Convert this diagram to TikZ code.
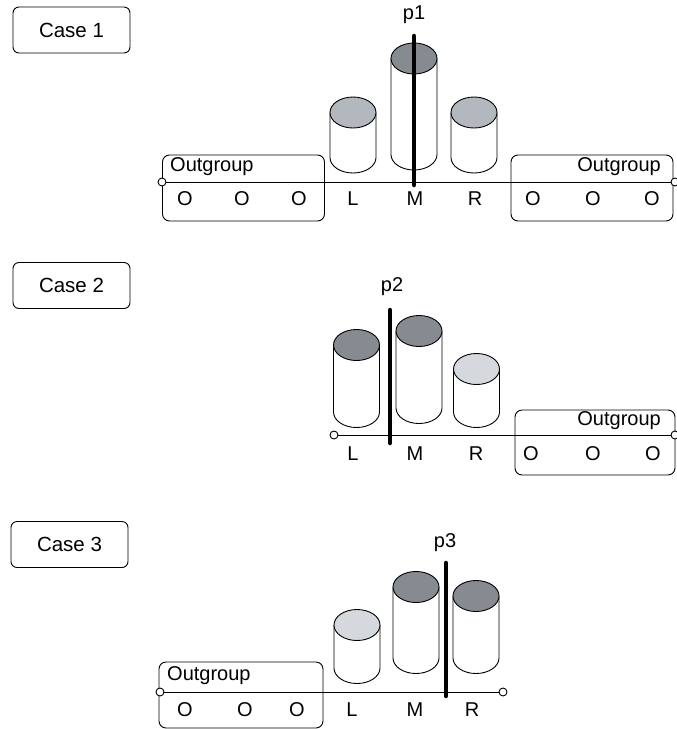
\documentclass[tikz,border=0pt]{standalone}
\usepackage{fontspec}
\setmainfont{Liberation Sans}
\definecolor{capdark}{HTML}{868B91}
\definecolor{capmid}{HTML}{B3B8BF}
\definecolor{caplight}{HTML}{D5D8DD}
% upright cylinder: centre x, top-ellipse y, bottom-ellipse y, cap colour
\newcommand\drawcyl[4]{%
  \filldraw[thinline, fill=white] (#1-23,#2) -- (#1-23,#3)
    arc[start angle=180, end angle=0, x radius=23, y radius=15.5] -- (#1+23,#2);
  \filldraw[thinline, fill=#4] (#1,#2) ellipse[x radius=23, y radius=15.5];
}
\begin{document}
\begin{tikzpicture}[x=1pt, y=-1pt,
  thinline/.style={line width=0.9pt},
  casebox/.style={draw, thinline, rounded corners=6pt, minimum width=117pt,
    minimum height=46pt, font=\fontsize{20.5}{24}\selectfont},
  groupbox/.style={draw, thinline, rounded corners=7pt, inner sep=0pt,
    minimum width=162pt, minimum height=66pt},
  lbl/.style={font=\fontsize{20}{24}\selectfont, inner sep=0pt},
  endpt/.style={circle, draw, thinline, fill=white, minimum size=8pt, inner sep=0pt},
  split/.style={line width=4.5pt, line cap=round},
]
\useasboundingbox (0,0) rectangle (677,729);

% ---------------- Case 1 ----------------
\node[casebox] (case1) at (71.5,30) {Case 1};
\node[groupbox] (og1l) at (243.5,188) {};
\node[groupbox] (og1r) at (592,188) {};
\node[lbl, anchor=west] (og1lt) at (170,167) {Outgroup};
\node[lbl, anchor=east] (og1rt) at (661,167) {Outgroup};
\drawcyl{353}{112.5}{157.5}{capmid}
\drawcyl{414}{58.5}{154.5}{capdark}
\drawcyl{474}{112.5}{157.5}{capmid}
\node[endpt] (a1) at (162,182) {};
\node[endpt] (b1) at (675,182) {};
\draw[thinline] (a1) -- (b1);
\coordinate (p1top) at (414,36);
\coordinate (p1bot) at (414,185);
\draw[split] (p1top) -- (p1bot);
\node[lbl] (p1) at (414,15) {p1};
\foreach \x/\t [count=\i] in {185/O,242/O,299/O,353/L,415/M,475/R,533/O,593/O,652/O}
  \node[lbl] (c1l\i) at (\x,199) {\t};

% ---------------- Case 2 ----------------
\node[casebox] (case2) at (71.5,285.5) {Case 2};
\node[groupbox, minimum width=160pt, minimum height=65pt] (og2r) at (595,442.5) {};
\node[lbl, anchor=east] (og2rt) at (661,421) {Outgroup};
\drawcyl{356.5}{345}{412}{capdark}
\drawcyl{419}{331}{408}{capdark}
\drawcyl{476.5}{369}{412}{caplight}
\node[endpt] (a2) at (334,435) {};
\node[endpt] (b2) at (675,435) {};
\draw[thinline] (a2) -- (b2);
\coordinate (p2top) at (390,310);
\coordinate (p2bot) at (390,443);
\draw[split] (p2top) -- (p2bot);
\node[lbl] (p2) at (392,287) {p2};
\foreach \x/\t [count=\i] in {353/L,415/M,476/R,531/O,593/O,653/O}
  \node[lbl] (c2l\i) at (\x,454) {\t};

% ---------------- Case 3 ----------------
\node[casebox] (case3) at (69.5,544.5) {Case 3};
\node[groupbox, minimum width=164pt] (og3l) at (241,695) {};
\node[lbl, anchor=west] (og3lt) at (167,676) {Outgroup};
\drawcyl{357}{625}{668}{caplight}
\drawcyl{416}{587}{658}{capdark}
\drawcyl{476}{596}{658}{capdark}
\node[endpt] (a3) at (160,692) {};
\node[endpt] (b3) at (503,692) {};
\draw[thinline] (a3) -- (b3);
\coordinate (p3top) at (446,563);
\coordinate (p3bot) at (446,696);
\draw[split] (p3top) -- (p3bot);
\node[lbl] (p3) at (445,543) {p3};
\foreach \x/\t [count=\i] in {185/O,245/O,297/O,352/L,415/M,472/R}
  \node[lbl] (c3l\i) at (\x,710) {\t};
\end{tikzpicture}
\end{document}
